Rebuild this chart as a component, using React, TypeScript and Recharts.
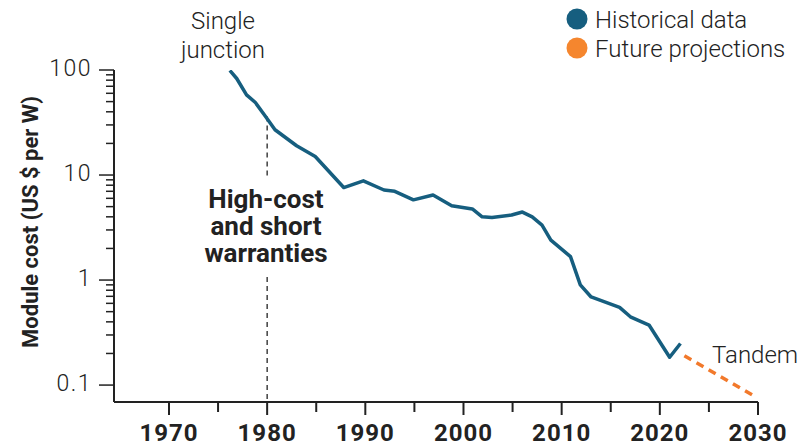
import { LineChart, Line, XAxis, YAxis, ReferenceLine } from 'recharts';

// module cost, US $ per W (log scale)
const histYears = [
  1976.2, 1976.9, 1977.9, 1978.8, 1979.8, 1980.8, 1983.0, 1984.9, 1987.8, 1989.8,
  1991.9, 1993.0, 1994.9, 1996.9, 1998.8, 2000.9, 2001.9, 2002.9, 2004.9, 2006.0,
  2007.0, 2008.0, 2008.9, 2010.9, 2011.9, 2013.0, 2015.9, 2017.0, 2018.9, 2021.0,
  2022.1,
];
const histCost = [
  99, 83, 58, 49, 36.5, 27, 19, 15, 7.6, 8.8,
  7.2, 7.0, 5.8, 6.45, 5.1, 4.75, 4.0, 3.95, 4.16, 4.44,
  4.0, 3.34, 2.4, 1.67, 0.9, 0.69, 0.55, 0.447, 0.373, 0.184,
  0.249,
];
const projYears = [2022.5, 2029.6];
const projCost = [0.19, 0.079];

const xTicks = [1970, 1975, 1980, 1985, 1990, 1995, 2000, 2005, 2010, 2015, 2020, 2025, 2030];
const yMajor = [0.1, 1, 10, 100];
const yMinor = [
  0.2, 0.3, 0.4, 0.5, 0.6, 0.7, 0.8, 0.9,
  2, 3, 4, 5, 6, 7, 8, 9,
  20, 30, 40, 50, 60, 70, 80, 90,
];

const historical = histYears.map((year, i) => ({ year, cost: histCost[i] }));
const projection = projYears.map((year, i) => ({ year, cost: projCost[i] }));
const yTicks = [...yMajor, ...yMinor].sort((a, b) => a - b);

const BLUE = '#165e7f';
const ORANGE = '#f2792b';
const INK = '#222';
const FONT = 'Roboto, sans-serif';

function XTick(props: any) {
  const { x, y, payload } = props;
  const major = payload.value % 10 === 0;
  return (
    <g>
      <line x1={x} x2={x} y1={y} y2={y + (major ? 13 : 10)} stroke={INK} strokeWidth={2} />
      {major && (
        <text
          x={x}
          y={y + 39}
          textAnchor="middle"
          fontFamily={FONT}
          fontWeight={700}
          fontSize={24}
          letterSpacing={1}
          fill={INK}
        >
          {payload.value}
        </text>
      )}
    </g>
  );
}

function YTick(props: any) {
  const { x, y, payload } = props;
  const major = yMajor.includes(payload.value);
  return (
    <g>
      <line x1={x - (major ? 15 : 8)} x2={x} y1={y} y2={y} stroke={INK} strokeWidth={1.5} />
      {major && (
        <text
          x={x - 22}
          y={y + 6}
          textAnchor="end"
          fontFamily={FONT}
          fontWeight={300}
          fontSize={23}
          letterSpacing={1.5}
          fill={INK}
        >
          {payload.value}
        </text>
      )}
    </g>
  );
}

export default function App() {
  return (
    <div style={{ position: 'absolute', left: 0, top: 0, background: '#fff' }}>
      <LineChart width={804} height={446} margin={{ top: 70, right: 46, left: 0, bottom: 0 }}>
        <XAxis
          dataKey="year"
          type="number"
          domain={[1964.4, 2030]}
          allowDataOverflow
          ticks={xTicks}
          interval={0}
          tickLine={false}
          tickSize={0}
          tickMargin={0}
          height={44}
          axisLine={{ stroke: INK, strokeWidth: 2 }}
          tick={XTick}
        />
        <YAxis
          dataKey="cost"
          scale="log"
          domain={[0.069, 100]}
          allowDataOverflow
          ticks={yTicks}
          interval={0}
          tickLine={false}
          tickSize={0}
          tickMargin={0}
          width={114}
          axisLine={{ stroke: INK, strokeWidth: 2 }}
          tick={YTick}
        />
        <ReferenceLine segment={[{ x: 1980, y: 36 }, { x: 1980, y: 9.6 }]} stroke={INK} strokeWidth={1.3} strokeDasharray="5 4" />
        <ReferenceLine segment={[{ x: 1980, y: 1.07 }, { x: 1980, y: 0.069 }]} stroke={INK} strokeWidth={1.3} strokeDasharray="5 4" />
        <Line
          data={historical}
          dataKey="cost"
          stroke={BLUE}
          strokeWidth={3.5}
          dot={false}
          isAnimationActive={false}
          strokeLinejoin="round"
        />
        <Line
          data={projection}
          dataKey="cost"
          stroke={ORANGE}
          strokeWidth={3.5}
          strokeDasharray="8 6"
          dot={false}
          isAnimationActive={false}
        />

        <text
          x={30}
          y={222}
          transform="rotate(-90 30 222)"
          textAnchor="middle"
          dominantBaseline="central"
          fontFamily={FONT}
          fontWeight={700}
          fontSize={22}
          fill={INK}
        >
          Module cost (US $ per W)
        </text>

        <g fontFamily={FONT} fontWeight={300} fontSize={24} fill={INK} textAnchor="middle">
          <text x={223} y={29}>Single</text>
          <text x={223} y={58}>junction</text>
        </g>

        <g fontFamily={FONT} fontWeight={700} fontSize={26} fill={INK} textAnchor="middle">
          <text x={266} y={208}>High-cost</text>
          <text x={266} y={235}>and short</text>
          <text x={266} y={262}>warranties</text>
        </g>

        <text x={712} y={363} fontFamily={FONT} fontWeight={300} fontSize={24} fill={INK}>
          Tandem
        </text>

        <g fontFamily={FONT} fontWeight={300} fontSize={24} fill={INK}>
          <circle cx={577} cy={19} r={10.5} fill={BLUE} />
          <text x={595} y={27.5}>Historical data</text>
          <circle cx={577} cy={48} r={10.5} fill="#f5862e" />
          <text x={595} y={56.5}>Future projections</text>
        </g>
      </LineChart>
    </div>
  );
}
